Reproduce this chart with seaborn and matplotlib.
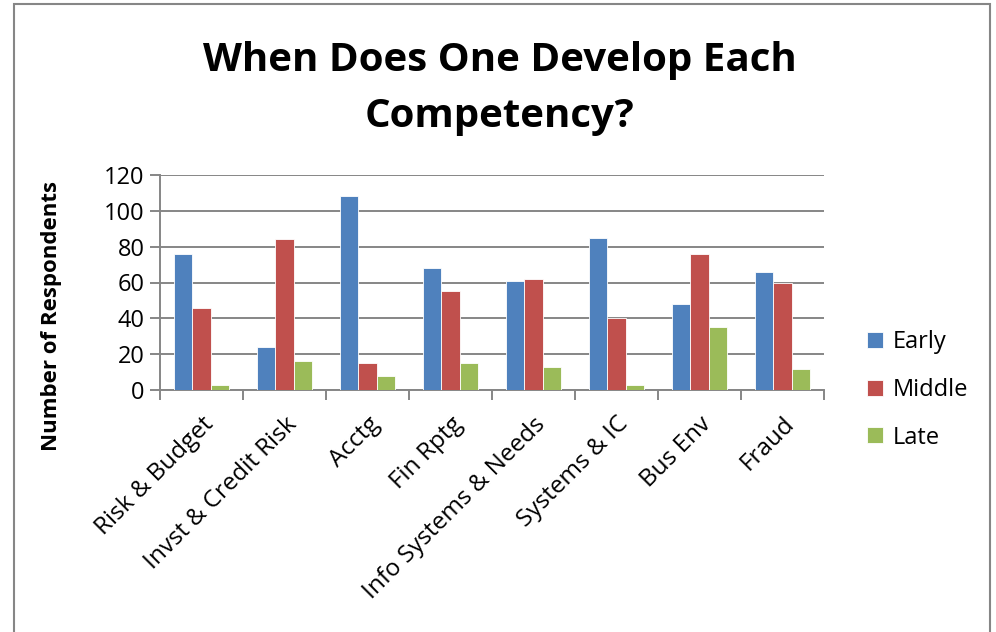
import matplotlib
matplotlib.use("Agg")
import matplotlib.pyplot as plt
import seaborn as sns
import pandas as pd
import numpy as np
from matplotlib.patches import Rectangle
from matplotlib.ticker import FixedLocator

categories = ["Risk & Budget", "Invst & Credit Risk", "Acctg", "Fin Rptg",
              "Info Systems & Needs", "Systems & IC", "Bus Env", "Fraud"]
early = [76, 24, 108, 68, 61, 85, 48, 66]
middle = [46, 84, 15, 55, 62, 40, 76, 60]
late = [3, 16, 8, 15, 13, 3, 35, 12]
series = ["Early", "Middle", "Late"]
colors = ["#4F81BD", "#C0504D", "#9BBB59"]
yticks = [0, 20, 40, 60, 80, 100, 120]

rows = []
for name, vals in zip(series, [early, middle, late]):
    for c, v in zip(categories, vals):
        rows.append({"Competency": c, "Timing": name, "Respondents": v})
df = pd.DataFrame(rows)

sns.set_theme(style="white")
plt.rcParams['font.family'] = ['Open Sans', 'DejaVu Sans']
for k in ["text.color", "axes.labelcolor", "xtick.color", "ytick.color"]:
    plt.rcParams[k] = "black"

fig = plt.figure(figsize=(9.96, 6.32), dpi=100)
ax = fig.add_axes([160/996, 1-390/632, 664/996, 215/632])

sns.barplot(data=df, x="Competency", y="Respondents", hue="Timing",
            order=categories, hue_order=series, palette=colors, saturation=1,
            width=0.66, edgecolor="white", linewidth=0.6, ax=ax, zorder=3)

ax.set_ylim(0, 120)
ax.set_xlim(-0.5, len(categories) - 0.5)
ax.set_yticks(yticks)
ax.set_yticklabels([str(t) for t in yticks], fontsize=17)
ax.yaxis.grid(True, color="#868686", linewidth=1.4, zorder=0)
ax.set_axisbelow(True)

for s in ["top", "right"]:
    ax.spines[s].set_visible(False)
for s in ["left", "bottom"]:
    ax.spines[s].set_color("#868686")
    ax.spines[s].set_linewidth(1.4)

ax.tick_params(axis="y", which="major", length=7, width=1.4, color="#868686",
               labelcolor="black", direction="out", pad=4, left=True)
ax.set_xticks(range(len(categories)))
ax.set_xticklabels(categories, rotation=45, ha="right", rotation_mode="anchor",
                   fontsize=17.5)
ax.tick_params(axis="x", which="major", length=0, pad=16, labelcolor="black")
ax.xaxis.set_minor_locator(FixedLocator(np.arange(-0.5, len(categories), 1.0)))
ax.tick_params(axis="x", which="minor", length=7, width=1.4, color="#868686",
               direction="out", bottom=True)

ax.set_xlabel("")
ax.set_ylabel("Number of Respondents", fontsize=16, fontweight="bold")
ax.yaxis.set_label_coords(-0.148, 0.344)

handles, labels = ax.get_legend_handles_labels()
ax.legend(handles, labels, loc="center left", bbox_to_anchor=(1.065, 0.0),
          frameon=False, fontsize=17, handlelength=0.65, handleheight=0.65,
          labelspacing=1.0, handletextpad=0.45, borderpad=0, borderaxespad=0)

fig.text(0.502, 0.905, "When Does One Develop Each", ha="center", va="center",
         fontsize=29, fontweight="bold")
fig.text(0.502, 0.815, "Competency?", ha="center", va="center",
         fontsize=29, fontweight="bold")

fig.patches.append(Rectangle((14/996, -0.1), (990-14)/996, 1.1 - 4/632,
                             transform=fig.transFigure, fill=False,
                             edgecolor="#868686", linewidth=1.5))

fig.savefig("out.png", dpi=100)
